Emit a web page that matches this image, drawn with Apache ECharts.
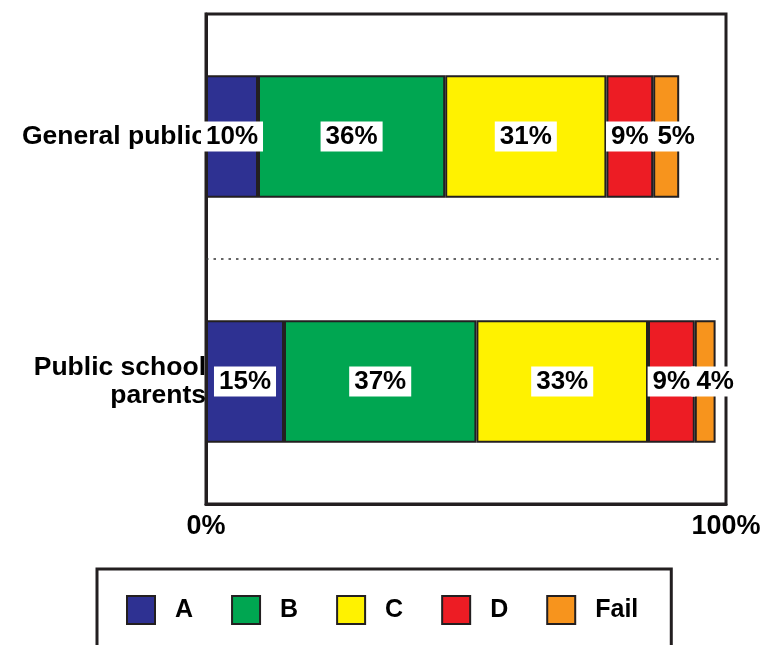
<!DOCTYPE html>
<html>
<head>
<meta charset="utf-8">
<script src="https://cdn.jsdelivr.net/npm/echarts@6/dist/echarts.min.js"></script>
<style>
  html, body { margin: 0; padding: 0; background: #fff; }
  #gradeChart { width: 762px; height: 645px; }
</style>
</head>
<body>
<div id="gradeChart"></div>
<script>
const groups = ['General public', 'Public school\nparents'];
const gradeNames = ['A', 'B', 'C', 'D', 'Fail'];
const gradeA = [10, 15];
const gradeB = [36, 37];
const gradeC = [31, 33];
const gradeD = [9, 9];
const gradeFail = [5, 4];
const xTicks = [0, 100];
const divider = [[0, 1], [99, 1]];

const gradeColors = ['#2e3192', '#00a651', '#fff200', '#ed1c24', '#f7941d'];
const inkColor = '#231f20';
const fontName = '"Liberation Sans", Arial, sans-serif';

const gradeChart = echarts.init(document.getElementById('gradeChart'));

// one stacked bar series per grade
function gradeSeries(name, values, color, shift) {
    return {
        name: name,
        type: 'bar',
        stack: 'grades',
        barWidth: '50%',
        data: values,
        itemStyle: { color: color, borderColor: inkColor, borderWidth: 2 },
        label: {
            show: true,
            position: 'inside',
            formatter: '{c}%',
            offset: [shift, 0],
            color: '#000',
            fontFamily: fontName,
            fontWeight: 'bold',
            fontSize: 26,
            lineHeight: 26,
            backgroundColor: '#fff',
            padding: [2, 5]
        }
    };
}

gradeChart.setOption({
    animation: false,
    textStyle: { fontFamily: fontName },
    grid: {
        left: 206, right: 36, top: 14, bottom: 141,
        outerBoundsMode: 'none',
        show: true, borderColor: inkColor, borderWidth: 3
    },
    legend: {
        data: gradeNames,
        selectedMode: false,
        left: 97, top: 569,
        padding: [26, 33, 40, 29],
        borderColor: inkColor, borderWidth: 3,
        itemWidth: 28, itemHeight: 28, itemGap: 38,
        icon: 'rect',
        itemStyle: { borderColor: inkColor, borderWidth: 2 },
        textStyle: {
            color: '#000', fontFamily: fontName, fontWeight: 'bold',
            fontSize: 25, padding: [0, 0, 0, 15]
        }
    },
    xAxis: {
        type: 'value',
        min: xTicks[0], max: xTicks[1], interval: xTicks[1] - xTicks[0],
        axisLine: { show: true, lineStyle: { color: inkColor, width: 3 } },
        axisTick: { show: false },
        splitLine: { show: false },
        axisLabel: {
            formatter: '{value}%', color: '#000', fontWeight: 'bold',
            fontSize: 27, margin: 9
        }
    },
    yAxis: [{
        type: 'category',
        data: groups,
        inverse: true,
        axisLine: { show: true, lineStyle: { color: inkColor, width: 3 } },
        axisTick: { show: false },
        splitLine: { show: false },
        axisLabel: {
            color: '#000', fontWeight: 'bold', fontSize: 26.5,
            lineHeight: 28, align: 'right', margin: 0
        }
    }, {
        type: 'value', min: 0, max: 2, show: false
    }],
    series: [
        gradeSeries(gradeNames[0], gradeA, gradeColors[0], 0),
        gradeSeries(gradeNames[1], gradeB, gradeColors[1], 0),
        gradeSeries(gradeNames[2], gradeC, gradeColors[2], 0),
        gradeSeries(gradeNames[3], gradeD, gradeColors[3], 0),
        gradeSeries(gradeNames[4], gradeFail, gradeColors[4], 10),
        {
            // dotted divider between the two groups
            name: 'divider',
            type: 'line',
            yAxisIndex: 1,
            data: divider,
            symbol: 'none',
            silent: true,
            z: 1,
            lineStyle: { color: '#333', width: 1.5, type: [2.5, 5] }
        }
    ]
});
</script>
</body>
</html>
